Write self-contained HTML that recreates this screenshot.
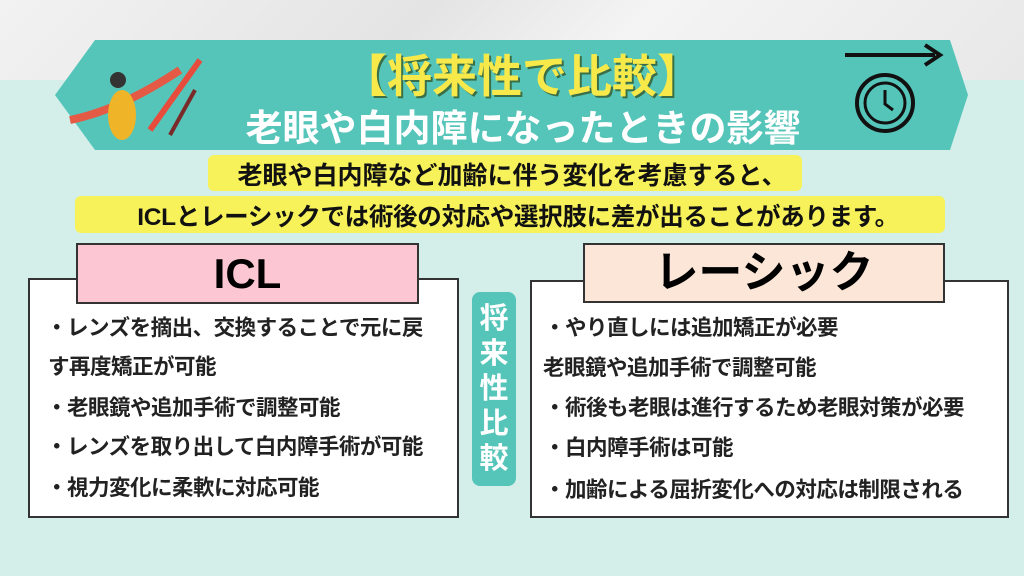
<!DOCTYPE html>
<html><head><meta charset="utf-8"><style>
*{margin:0;padding:0;box-sizing:border-box}
body{width:1024px;height:576px;position:relative;overflow:hidden;background:#d4eeea;font-family:"Liberation Sans","Noto Sans CJK JP",sans-serif;font-weight:bold}
.top{position:absolute;left:0;top:0;width:1024px;height:80px;background:linear-gradient(135deg,#f2f2f2,#e4e4e4 40%,#f4f4f4 60%,#e8e8e8)}
.abs{position:absolute}
.t{white-space:nowrap}
.box{position:absolute;background:#fff;border:2px solid #333}
.hdr{position:absolute;border:2px solid #333;text-align:center}
.item{position:absolute;font-size:21.5px;color:#222;white-space:nowrap;letter-spacing:-0.5px}
.yel{position:absolute;background:#f7f25a;border-radius:6px}
</style></head><body>
<div class="top"></div>
<svg class="abs" style="left:0;top:0" width="1024" height="160">
<polygon points="95,40 950,40 968,95 950,150 95,150 55,95" fill="#56c5b9"/>
<path d="M845,55 H935" stroke="#111" stroke-width="4" fill="none"/>
<path d="M925,45 L940,55 L925,65" stroke="#111" stroke-width="4" fill="none"/>
<circle cx="885" cy="103" r="28" stroke="#111" stroke-width="4" fill="none"/>
<circle cx="885" cy="103" r="20" stroke="#111" stroke-width="3" fill="none"/>
<path d="M885,90 V104 L893,110" stroke="#111" stroke-width="3" fill="none"/>
<path d="M150,130 L200,60" stroke="#e74c3c" stroke-width="6"/>
<path d="M170,135 L195,90" stroke="#7b2a2a" stroke-width="4"/>
<path d="M70,120 Q120,110 180,70" stroke="#e55a45" stroke-width="8" fill="none"/>
<ellipse cx="122" cy="115" rx="14" ry="25" fill="#f0b429"/>
<circle cx="118" cy="80" r="8" fill="#333"/>
</svg>
<div class="abs t" style="left:0;width:1024px;top:40px;text-align:center;font-size:45px;color:#f7e94a;text-shadow:2px 2px 0 #3a6f48;padding-left:20px">【将来性で比較】</div>
<div class="abs t" style="left:0;width:1024px;top:98px;text-align:center;font-size:37px;color:#fff;padding-left:22px">老眼や白内障になったときの影響</div>
<div class="yel" style="left:208px;top:155px;width:594px;height:36px"></div>
<div class="yel" style="left:75px;top:196px;width:870px;height:37px"></div>
<div class="abs t" style="left:0;width:1024px;top:156px;text-align:center;font-size:25px;color:#111">老眼や白内障など加齢に伴う変化を考慮すると、</div>
<div class="abs t" style="left:0;width:1024px;top:198px;text-align:center;font-size:24.5px;color:#111;padding-left:12px;letter-spacing:-0.3px">ICLとレーシックでは術後の対応や選択肢に差が出ることがあります。</div>
<div class="box" style="left:28px;top:278px;width:431px;height:240px"></div>
<div class="hdr" style="left:76px;top:243px;width:343px;height:61px;background:#fcc6d3;font-size:42px;line-height:57px">ICL</div>
<div class="box" style="left:530px;top:280px;width:479px;height:238px"></div>
<div class="hdr" style="left:583px;top:243px;width:362px;height:60px;background:#fbe6d8;font-size:44px;line-height:56px">レーシック</div>
<div class="abs" style="left:472px;top:292px;width:44px;height:194px;background:#56c5b9;border-radius:8px;color:#fff;font-size:29px;line-height:35px;text-align:center;padding-top:10px">将<br>来<br>性<br>比<br>較</div>
<div class="item" style="left:46px;top:311px">・レンズを摘出、交換することで元に戻</div>
<div class="item" style="left:48px;top:350px">す再度矯正が可能</div>
<div class="item" style="left:46px;top:391px">・老眼鏡や追加手術で調整可能</div>
<div class="item" style="left:46px;top:430px">・レンズを取り出して白内障手術が可能</div>
<div class="item" style="left:46px;top:471px">・視力変化に柔軟に対応可能</div>
<div class="item" style="left:544px;top:311px">・やり直しには追加矯正が必要</div>
<div class="item" style="left:543px;top:351px">老眼鏡や追加手術で調整可能</div>
<div class="item" style="left:544px;top:391px">・術後も老眼は進行するため老眼対策が必要</div>
<div class="item" style="left:544px;top:431px">・白内障手術は可能</div>
<div class="item" style="left:544px;top:473px">・加齢による屈折変化への対応は制限される</div>
</body></html>
